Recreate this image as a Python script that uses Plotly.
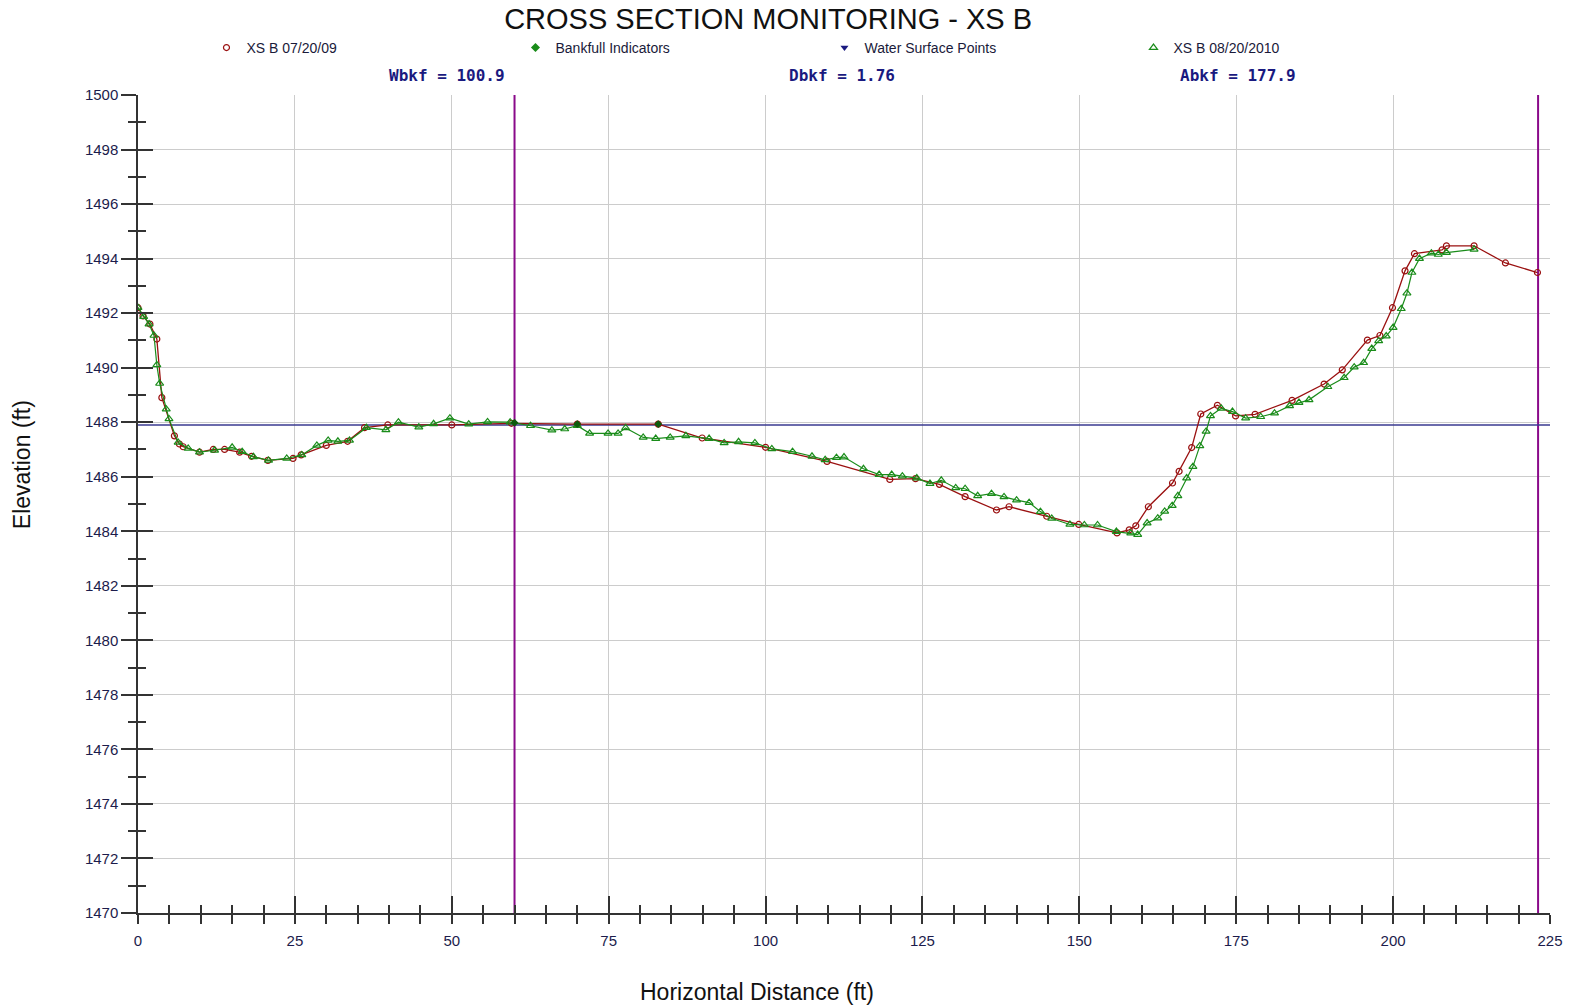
import plotly.graph_objects as go

# ---------------- data ----------------
xs2009_x = [0, 0.8, 1.9, 3.0, 3.8, 5.8, 6.6, 7.2, 9.8, 12.0,
            13.8, 16.2, 18.1, 20.7, 24.7, 26.0, 30.0, 33.4, 36.1, 39.8,
            50.0, 59.5, 70.0, 82.9, 89.9, 100.0, 109.8, 119.8, 123.9, 127.7,
            131.8, 136.8, 138.8, 144.8, 149.9, 156.0, 157.95, 159.0, 161.0, 164.85,
            165.9, 167.9, 169.35, 172.0, 174.9, 178.0, 183.9, 189.0, 191.9, 195.9,
            197.9, 199.9, 201.9, 203.4, 207.8, 208.5, 212.9, 217.9, 223.0]
xs2009_y = [1492.2, 1491.9, 1491.6, 1491.05, 1488.9, 1487.5, 1487.2, 1487.1, 1486.9, 1487.0,
            1487.0, 1486.9, 1486.75, 1486.6, 1486.67, 1486.8, 1487.15, 1487.3, 1487.8, 1487.9,
            1487.9, 1487.96, 1487.93, 1487.93, 1487.42, 1487.08, 1486.56, 1485.9, 1485.93, 1485.72,
            1485.27, 1484.78, 1484.9, 1484.55, 1484.25, 1483.94, 1484.05, 1484.2, 1484.9, 1485.77,
            1486.2, 1487.07, 1488.3, 1488.62, 1488.23, 1488.29, 1488.8, 1489.4, 1489.92, 1491.01,
            1491.18, 1492.2, 1493.55, 1494.18, 1494.32, 1494.47, 1494.47, 1493.84, 1493.49]

xs2010_x = [0, 0.9, 1.76, 2.55, 3.0, 3.45, 4.5, 4.94, 6.4, 8.0,
            9.8, 12.2, 15.0, 16.6, 18.4, 20.8, 23.7, 26.1, 28.5, 30.3,
            31.85, 33.7, 36.4, 39.5, 41.5, 44.75, 47.1, 49.7, 52.7, 55.7,
            59.3, 62.55, 65.95, 68.0, 70.0, 71.96, 74.9, 76.5, 77.7, 80.5,
            82.5, 84.8, 87.3, 91.0, 93.4, 95.7, 98.3, 101.0, 104.3, 107.4,
            109.5, 111.3, 112.5, 115.6, 118.1, 120.1, 121.8, 124.1, 126.2, 128.0,
            130.3, 131.8, 133.8, 136.0, 138.0, 140.0, 142.0, 143.8, 145.6, 148.5,
            150.8, 152.9, 155.9, 158.2, 159.3, 160.8, 162.5, 163.6, 164.8, 165.7,
            167.1, 168.1, 169.2, 170.2, 170.9, 172.6, 174.4, 176.5, 178.9, 181.1,
            183.5, 185.0, 186.6, 189.6, 192.2, 193.8, 195.3, 196.6, 197.7, 198.9,
            200.0, 201.3, 202.2, 203.0, 204.2, 206.1, 207.2, 208.5, 212.9]
xs2010_y = [1492.2, 1491.87, 1491.6, 1491.18, 1490.1, 1489.42, 1488.48, 1488.12, 1487.26, 1487.04,
            1486.9, 1486.97, 1487.08, 1486.92, 1486.73, 1486.6, 1486.67, 1486.8, 1487.15, 1487.33,
            1487.3, 1487.33, 1487.8, 1487.72, 1488.0, 1487.82, 1487.94, 1488.15, 1487.93, 1488.01,
            1488.0, 1487.87, 1487.71, 1487.75, 1487.87, 1487.59, 1487.59, 1487.59, 1487.79, 1487.44,
            1487.4, 1487.44, 1487.5, 1487.4, 1487.24, 1487.28, 1487.24, 1487.02, 1486.92, 1486.75,
            1486.62, 1486.7, 1486.72, 1486.29, 1486.08, 1486.08, 1486.02, 1485.95, 1485.75, 1485.87,
            1485.59, 1485.56, 1485.3, 1485.38, 1485.26, 1485.14, 1485.05, 1484.72, 1484.47, 1484.25,
            1484.23, 1484.23, 1483.99, 1483.93, 1483.88, 1484.3, 1484.48, 1484.73, 1484.94, 1485.3,
            1485.95, 1486.37, 1487.13, 1487.66, 1488.23, 1488.51, 1488.39, 1488.15, 1488.2, 1488.33,
            1488.6, 1488.72, 1488.82, 1489.3, 1489.63, 1490.02, 1490.18, 1490.7, 1490.98, 1491.16,
            1491.47, 1492.16, 1492.73, 1493.49, 1494.0, 1494.2, 1494.15, 1494.22, 1494.34]

bankfull_ind_x = [60.0, 70.0, 82.9]
bankfull_ind_y = [1487.98, 1487.93, 1487.93]

bankfull_elev = 1487.9
bankfull_line_x = [0, 225]
limit_lines_x = [60.0, 223.1]

stats_labels = ["Wbkf = 100.9", "Dbkf = 1.76", "Abkf = 177.9"]
stats_pos = [0.2186, 0.4986, 0.779]

x_range = [0, 225]
y_range = [1470, 1500]

RED = "#9a1010"
GREEN = "#1a8c1a"
NAVY = "#1a1a80"
PURPLE = "#8a0a8a"
TICKFONT = dict(family="Liberation Sans Narrow, Arial Narrow, Liberation Sans, Arial", size=15, color="#1c1c4c")

fig = go.Figure()

# limit (purple) vertical lines
for lx in limit_lines_x:
    fig.add_trace(go.Scatter(x=[lx, lx], y=y_range, mode="lines",
                             line=dict(color=PURPLE, width=2), showlegend=False, hoverinfo="skip"))

# bankfull horizontal line
fig.add_trace(go.Scatter(x=bankfull_line_x, y=[bankfull_elev] * len(bankfull_line_x), mode="lines",
                         line=dict(color="#3a3a90", width=1.5), showlegend=False, hoverinfo="skip"))

# surveys
fig.add_trace(go.Scatter(x=xs2009_x, y=xs2009_y, mode="lines+markers", name="XS B 07/20/09",
                         line=dict(color=RED, width=1.3),
                         marker=dict(symbol="circle-open", size=6, color=RED, line=dict(width=1.2)),
                         showlegend=False))
fig.add_trace(go.Scatter(x=xs2010_x, y=xs2010_y, mode="lines+markers", name="XS B 08/20/2010",
                         line=dict(color=GREEN, width=1.2),
                         marker=dict(symbol="triangle-up-open", size=7, color=GREEN, line=dict(width=1.2)),
                         showlegend=False))
fig.add_trace(go.Scatter(x=bankfull_ind_x, y=bankfull_ind_y, mode="markers", name="Bankfull Indicators",
                         marker=dict(symbol="diamond", size=6, color="#0d5a0d"),
                         showlegend=False))

# legend entries (marker only)
fig.add_trace(go.Scatter(x=[None], y=[None], mode="markers", name="XS B 07/20/09",
                         marker=dict(symbol="circle-open", size=6, color=RED, line=dict(width=1.2))))
fig.add_trace(go.Scatter(x=[None], y=[None], mode="markers", name="Bankfull Indicators",
                         marker=dict(symbol="diamond", size=7, color=GREEN)))
fig.add_trace(go.Scatter(x=[None], y=[None], mode="markers", name="Water Surface Points",
                         marker=dict(symbol="triangle-down", size=7, color=NAVY)))
fig.add_trace(go.Scatter(x=[None], y=[None], mode="markers", name="XS B 08/20/2010",
                         marker=dict(symbol="triangle-up-open", size=7, color=GREEN, line=dict(width=1.2))))

# dummy trace for overlay axes (crossing ticks)
fig.add_trace(go.Scatter(x=[None], y=[None], xaxis="x2", yaxis="y2", mode="markers",
                         showlegend=False, hoverinfo="skip"))

for lbl, px in zip(stats_labels, stats_pos):
    fig.add_annotation(text="<b>" + lbl + "</b>", x=px, y=1.0244, xref="paper", yref="paper", showarrow=False,
                       xanchor="center", yanchor="middle",
                       font=dict(family="DejaVu Sans Mono, Liberation Mono, monospace", size=16, color=NAVY))

fig.add_annotation(text="Horizontal Distance (ft)", x=0.4386, y=-0.0966, xref="paper", yref="paper",
                   showarrow=False, xanchor="center", yanchor="middle",
                   font=dict(family="Liberation Sans, Arial", size=23, color="#111111"))
fig.add_annotation(text="Elevation (ft)", x=-0.082, y=0.5477, xref="paper", yref="paper",
                   showarrow=False, xanchor="center", yanchor="middle", textangle=-90,
                   font=dict(family="Liberation Sans, Arial", size=23, color="#111111"))

fig.update_layout(
    width=1575, height=1005,
    margin=dict(l=138, r=17, t=95, b=92),
    paper_bgcolor="white", plot_bgcolor="white",
    title=dict(text="CROSS SECTION MONITORING - XS B", x=0.4877, xanchor="center",
               y=1 - 19 / 1005, yanchor="middle",
               font=dict(family="Liberation Sans, Arial", size=29, color="#111111")),
    legend=dict(orientation="h", x=0.0485, xanchor="left", y=1.0575, yanchor="middle",
                entrywidth=264, entrywidthmode="pixels", itemwidth=30,
                font=dict(family="Liberation Sans, Arial", size=14, color="#1a1a3a"),
                bgcolor="rgba(0,0,0,0)"),
    xaxis=dict(range=x_range, dtick=25, tick0=0, showgrid=True, gridcolor="#cccccc", gridwidth=1,
               zeroline=False, showline=True, linecolor="#333333", linewidth=1.5,
               ticks="outside", ticklen=9, tickwidth=1.5, tickcolor="#333333",
               minor=dict(dtick=5, ticks="outside", ticklen=9, tickwidth=1.5, tickcolor="#333333", showgrid=False),
               tickfont=TICKFONT, ticklabelstandoff=4),
    yaxis=dict(range=y_range, dtick=2, tick0=1470, showgrid=True, gridcolor="#cccccc", gridwidth=1,
               zeroline=False, showline=True, linecolor="#333333", linewidth=1.5,
               ticks="outside", ticklen=15, tickwidth=1.5, tickcolor="#333333",
               minor=dict(dtick=1, ticks="outside", ticklen=8, tickwidth=1.5, tickcolor="#333333", showgrid=False),
               tickfont=TICKFONT),
    xaxis2=dict(range=x_range, overlaying="x", anchor="y2", side="bottom", dtick=25, tick0=0,
                showgrid=False, zeroline=False, showline=False, showticklabels=False,
                ticks="inside", ticklen=17, tickwidth=1.5, tickcolor="#333333",
                minor=dict(dtick=5, ticks="inside", ticklen=8, tickwidth=1.5, tickcolor="#333333", showgrid=False)),
    yaxis2=dict(range=y_range, overlaying="y", anchor="x2", side="left", dtick=2, tick0=1470,
                showgrid=False, zeroline=False, showline=False, showticklabels=False,
                ticks="inside", ticklen=15, tickwidth=1.5, tickcolor="#333333",
                minor=dict(dtick=1, ticks="inside", ticklen=8, tickwidth=1.5, tickcolor="#333333", showgrid=False)),
)

fig.write_html("out.html", config={"displayModeBar": False},
               post_script="document.body.style.margin='0';document.body.style.overflow='hidden';")
